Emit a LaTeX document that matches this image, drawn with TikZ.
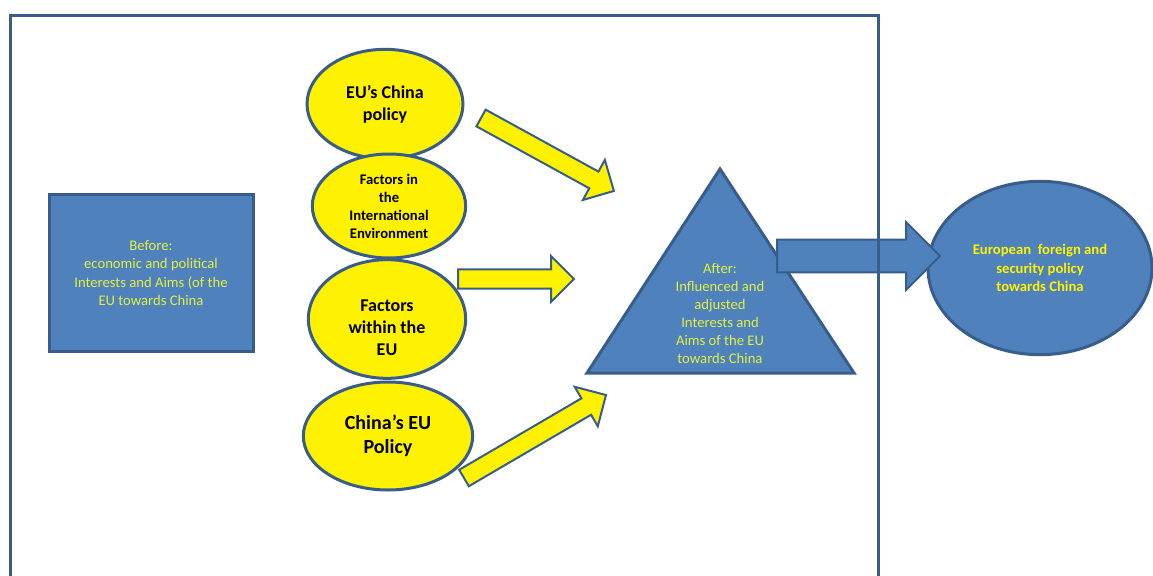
\documentclass[tikz,border=0pt]{standalone}
\usepackage{fontspec}
\setmainfont{Carlito}
\usetikzlibrary{shapes.geometric, shapes.arrows, positioning, calc}
\definecolor{boxblue}{HTML}{4F81BD}
\definecolor{edgeblue}{HTML}{385D8A}
\definecolor{txtyellow}{HTML}{E2F040}
\tikzstyle{before} = [rectangle, minimum width=153pt, minimum height=118pt, align=center, draw=edgeblue, line width=2.25pt, fill=boxblue, text=txtyellow, font=\fontsize{11}{13.7}\selectfont]
\tikzstyle{factor} = [ellipse, inner sep=0pt, align=center, draw=edgeblue, line width=2.25pt, fill=yellow, font=\bfseries\fontsize{13.5}{16.5}\selectfont]
\tikzstyle{outcome} = [ellipse, inner sep=0pt, align=center, draw=edgeblue, line width=2.25pt, fill=boxblue, text=yellow, font=\bfseries\fontsize{11}{13.9}\selectfont]
\tikzstyle{yarrow} = [single arrow, draw=edgeblue, line width=1.5pt, fill=yellow, inner xsep=0pt, inner ysep=6.4pt, single arrow head extend=10pt, outer sep=0pt]
\tikzstyle{barrow} = [single arrow, draw=edgeblue, line width=1.5pt, fill=boxblue, inner xsep=0pt, inner ysep=11.6pt, single arrow head extend=13.1pt, outer sep=0pt]
% block arrow from one point to another
\newcommand{\blockarrow}[3]{%
  \path let \p1=($(#3)-(#2)$), \n1={atan2(\y1,\x1)}, \n2={veclen(\x1,\y1)} in
    node[#1, anchor=tail, rotate=\n1, minimum height=\n2] at (#2) {};}

\begin{document}
\begin{tikzpicture}[x=0.75pt, y=-0.75pt]
\clip (0,0) rectangle (1153,575);

\node (before) [before] at (151,273) {Before:\\economic and political\\Interests and Aims (of the\\EU towards China};

\node (eupol) [factor, minimum width=117pt, minimum height=82pt] at (385,104) {EU’s China\\policy};
\node (intl) [factor, minimum width=115pt, minimum height=78pt, font=\bfseries\fontsize{11}{13.5}\selectfont] at (389,206) {Factors in\\the\\International\\Environment};
\node (within) [factor, minimum width=118pt, minimum height=89pt,
  label={[align=center, font=\bfseries\fontsize{13.5}{16.5}\selectfont, yshift=-6.5pt]center:{Factors\\within the\\EU}}] at (387,319) {};
\node (cnpol) [factor, minimum width=127pt, minimum height=81pt, font=\bfseries\fontsize{15}{18}\selectfont] at (388,436) {China’s EU\\Policy};

% triangle
\coordinate (apex) at (720,169);
\coordinate (bl) at (587,373);
\coordinate (br) at (854,373);
\draw[edgeblue, line width=2.25pt, fill=boxblue, line join=miter] (apex) -- (bl) -- (br) -- cycle;
\node (after) [align=center, text=txtyellow, font=\fontsize{11}{13.5}\selectfont] at (720,314) {After:\\Influenced and\\adjusted\\Interests and\\Aims of the EU\\towards China};

\node (efsp) [outcome, minimum width=168pt, minimum height=130pt] at (1040,268) {European\ \ foreign and\\security policy\\towards China};

% arrows
\coordinate (a1s) at (481,118);
\coordinate (a1e) at (614,191);
\coordinate (a2s) at (458,279);
\coordinate (a2e) at (574,279);
\coordinate (a3s) at (464,478);
\coordinate (a3e) at (606,395);
\coordinate (bs) at (777,256);
\coordinate (be) at (940,256);
\blockarrow{yarrow}{a1s}{a1e}
\blockarrow{yarrow}{a2s}{a2e}
\blockarrow{yarrow}{a3s}{a3e}
\blockarrow{barrow}{bs}{be}

% frame
\draw[edgeblue, line width=2.25pt] (10,600) -- (10,15) -- (878,15) -- (878,600);

\end{tikzpicture}
\end{document}
